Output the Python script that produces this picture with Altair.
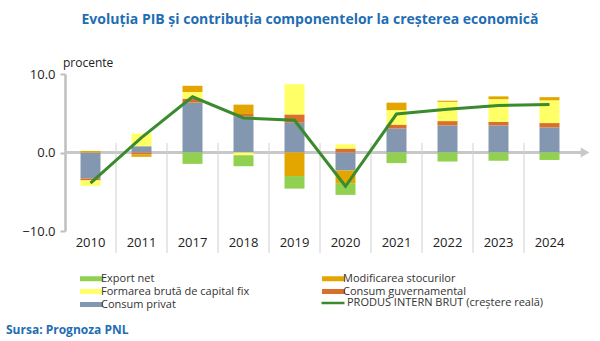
import altair as alt
import pandas as pd

years = ["2010", "2011", "2017", "2018", "2019", "2020", "2021", "2022", "2023", "2024"]
consum_privat = [-3.3, 0.8, 6.35, 4.6, 3.8, -2.3, 3.05, 3.45, 3.45, 3.2]
consum_guv = [-0.25, -0.25, 0.5, 0.3, 1.05, 0.5, 0.5, 0.55, 0.45, 0.55]
formarea = [-0.7, 1.6, 0.85, -0.35, 3.85, 0.55, 1.85, 2.45, 2.9, 2.9]
stocuri = [0.2, -0.3, 0.8, 1.2, -3.0, -1.6, 0.95, 0.15, 0.35, 0.4]
export_net = [0.0, 0.0, -1.45, -1.4, -1.6, -1.5, -1.35, -1.15, -1.05, -0.95]
pib = [-3.9, 1.9, 7.1, 4.4, 4.1, -4.3, 4.9, 5.5, 6.0, 6.1]

names = ["Consum privat", "Consum guvernamental", "Formarea brută de capital fix",
         "Modificarea stocurilor", "Export net"]
series = [consum_privat, consum_guv, formarea, stocuri, export_net]
legend_order = ["Export net", "Formarea brută de capital fix", "Consum privat",
                "Modificarea stocurilor", "Consum guvernamental"]
colors = {"Export net": "#92D050", "Modificarea stocurilor": "#E3A600",
          "Formarea brută de capital fix": "#FFFF66", "Consum guvernamental": "#D8702C",
          "Consum privat": "#8497B0"}
pib_name = "PRODUS INTERN BRUT (creștere reală)"

rows = []
for k, (n, vals) in enumerate(zip(names, series)):
    for y, v in zip(years, vals):
        rows.append({"year": y, "comp": n, "value": v, "ord": k})
bars_df = pd.DataFrame(rows)
line_df = pd.DataFrame({"year": years, "value": pib, "serie": pib_name})
div_df = pd.DataFrame({"year": years[1:]})
one_df = pd.DataFrame({"k": [0]})

FONT = "Open Sans"
yscale = alt.Scale(domain=[-10, 10], nice=False, zero=False)
xenc = alt.X("year:N", sort=years, scale=alt.Scale(paddingInner=0, paddingOuter=0),
             axis=alt.Axis(title=None, domain=False, ticks=False, labelAngle=0,
                           labelAlign="center", bandPosition=0.5, labelFontSize=13,
                           labelColor="#222", labelPadding=11))

zero_line = alt.Chart(one_df).mark_rule(color="#C8C8C8", strokeWidth=3).encode(
    y=alt.datum(0, scale=yscale), x=alt.value(0), x2=alt.value(516))
arrow = alt.Chart(one_df).mark_point(shape="triangle-right", filled=True, size=100,
                                     color="#C8C8C8", opacity=1).encode(
    y=alt.datum(0, scale=yscale), x=alt.value(520))

dividers = alt.Chart(div_df).mark_rule(color="#D0D0D0", strokeWidth=1).encode(
    x=alt.X("year:N", sort=years, bandPosition=0),
    y=alt.datum(1.2), y2=alt.datum(-12.8))

bars = alt.Chart(bars_df).mark_bar(size=20).encode(
    x=xenc,
    y=alt.Y("value:Q", stack="zero", scale=yscale,
            axis=alt.Axis(values=[-10, -5, 0, 5, 10], format=".1f", title=None, grid=False,
                          labelFontSize=13, labelColor="#222", domainColor="#BFBFBF",
                          domainWidth=2.5, tickColor="#BFBFBF", tickSize=5, tickWidth=2,
                          labelPadding=5)),
    order=alt.Order("ord:Q"),
    color=alt.Color("comp:N", scale=alt.Scale(domain=legend_order,
                                              range=[colors[c] for c in legend_order]),
                    legend=alt.Legend(orient="none", legendX=21, legendY=199, columns=2,
                                      title=None, symbolType="M-4.6,-1H4.6V1H-4.6Z",
                                      symbolSize=25, symbolStrokeWidth=0,
                                      labelFontSize=11, labelFont=FONT, labelColor="#333",
                                      labelLimit=400, columnPadding=72, rowPadding=1,
                                      labelOffset=4)),
)

line = alt.Chart(line_df).mark_line(strokeWidth=3).encode(
    x=alt.X("year:N", sort=years),
    y=alt.Y("value:Q", scale=yscale),
    color=alt.Color("serie:N", scale=alt.Scale(domain=[pib_name], range=["#3A8A2E"]),
                    legend=alt.Legend(orient="none", legendX=255, legendY=216, title=None,
                                      symbolType="stroke", symbolSize=529,
                                      symbolStrokeWidth=2.5, labelFontSize=11,
                                      labelFont=FONT, labelColor="#333", labelLimit=400,
                                      labelOffset=1)),
)

procente = alt.Chart(one_df).mark_text(text="procente", align="left", fontSize=12,
                                       fontWeight="normal", font=FONT,
                                       color="#222").encode(
    x=alt.value(-2), y=alt.value(-11))
sursa = alt.Chart(one_df).mark_text(text="Sursa: Prognoza PNL", align="left", fontSize=12,
                                    fontWeight="bold", font=FONT, color="#1F6DB3").encode(
    x=alt.value(-59), y=alt.value(256))

chart = alt.layer(zero_line, arrow, dividers, bars, line, procente, sursa).resolve_scale(
    color="independent").properties(
    width=510, height=157,
    title=alt.Title("Evoluția PIB și contribuția componentelor la creșterea economică",
                    fontSize=14, fontWeight="bold", color="#1F6DB3", font=FONT,
                    anchor="middle", frame="group", offset=30, dx=-10),
    autosize=alt.AutoSizeParams(type="none"),
    padding={"left": 65, "top": 74, "right": 25, "bottom": 110},
).configure(font=FONT).configure_view(stroke=None)

chart.save("out.html", embed_options={"renderer": "svg", "actions": False})
